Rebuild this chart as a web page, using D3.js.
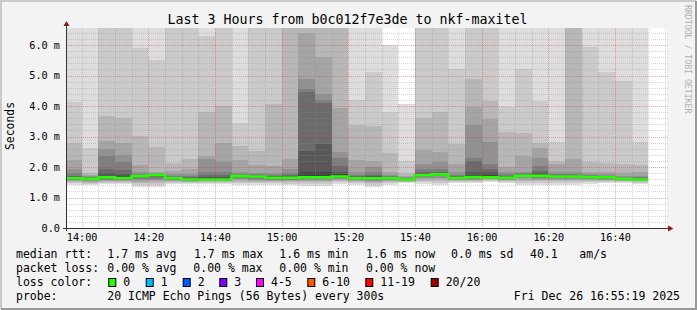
<!DOCTYPE html>
<html>
<head>
<meta charset="utf-8">
<script src="https://cdn.jsdelivr.net/npm/d3@7"></script>
<style>
html, body { margin: 0; padding: 0; background: #f3f3f3; }
svg { display: block; }
text { font-family: "DejaVu Sans Mono", monospace; }
</style>
</head>
<body>
<div id="chart"></div>
<script>
// 5 minute steps (end time of each step)
var slotEnds = ["14:00","14:05","14:10","14:15","14:20","14:25","14:30","14:35","14:40","14:45",
                "14:50","14:55","15:00","15:05","15:10","15:15","15:20","15:25","15:30","15:35",
                "15:40","15:45","15:50","15:55","16:00","16:05","16:10","16:15","16:20","16:25",
                "16:30","16:35","16:40","16:45","16:50"];

// median rtt per step (ms), all with 0 loss
var medians = [1.63,1.61,1.66,1.64,1.70,1.74,1.63,1.59,1.59,1.59,1.70,1.69,1.65,1.65,1.66,1.66,1.69,1.63,
               1.63,1.63,1.59,1.73,1.76,1.64,1.67,1.66,1.65,1.71,1.71,1.69,1.69,1.67,1.66,1.61,1.59];

// the 20 sorted pings of each step (ms)
var pings = [
  [1.42,1.47,1.51,1.54,1.56,1.58,1.59,1.60,1.61,1.62,1.64,1.66,1.68,1.72,1.80,1.95,2.24,2.78,4.12,7.9],
  [1.40,1.45,1.49,1.52,1.54,1.56,1.57,1.58,1.59,1.60,1.62,1.63,1.64,1.66,1.68,1.70,1.74,1.80,2.61,8.4],
  [1.44,1.48,1.52,1.55,1.57,1.59,1.61,1.62,1.64,1.65,1.68,1.72,1.80,1.95,2.37,2.59,2.86,3.68,7.1,9.6],
  [1.44,1.48,1.51,1.54,1.56,1.58,1.60,1.61,1.62,1.63,1.66,1.70,1.76,1.90,2.15,2.40,2.78,3.60,6.9,8.8],
  [1.33,1.40,1.46,1.52,1.56,1.60,1.63,1.66,1.68,1.69,1.71,1.72,1.73,1.75,1.78,1.83,2.06,3.03,5.90,7.6],
  [1.33,1.40,1.47,1.53,1.58,1.62,1.66,1.69,1.71,1.73,1.75,1.75,1.76,1.77,1.78,1.80,1.83,2.65,5.52,8.1],
  [1.44,1.48,1.51,1.54,1.56,1.58,1.59,1.60,1.61,1.62,1.64,1.65,1.66,1.68,1.71,1.76,1.88,2.13,7.3,9.2],
  [1.44,1.47,1.50,1.52,1.54,1.55,1.56,1.57,1.58,1.58,1.60,1.61,1.63,1.66,1.70,1.78,1.93,2.26,6.8,8.5],
  [1.44,1.48,1.51,1.53,1.55,1.56,1.57,1.58,1.58,1.59,1.61,1.63,1.68,1.75,1.83,2.26,2.37,3.81,6.29,7.7],
  [1.44,1.48,1.51,1.53,1.55,1.56,1.57,1.58,1.58,1.59,1.61,1.63,1.68,1.74,1.83,2.17,2.78,4.01,7.2,9.9],
  [1.42,1.47,1.52,1.56,1.60,1.63,1.65,1.67,1.68,1.69,1.71,1.72,1.73,1.75,1.78,1.85,2.24,2.68,3.46,7.0],
  [1.40,1.46,1.51,1.55,1.59,1.62,1.64,1.66,1.67,1.68,1.70,1.71,1.72,1.74,1.77,1.82,2.06,2.54,6.7,8.3],
  [1.42,1.47,1.51,1.54,1.57,1.59,1.61,1.62,1.63,1.64,1.66,1.67,1.69,1.71,1.75,1.82,2.02,4.07,7.5,9.0],
  [1.40,1.45,1.50,1.54,1.57,1.59,1.61,1.62,1.63,1.64,1.66,1.67,1.70,1.74,1.80,1.93,2.26,6.9,7.8,9.4],
  [1.38,1.44,1.50,1.54,1.57,1.60,1.62,1.63,1.64,1.65,1.72,1.83,2.54,4.45,4.57,4.90,6.39,7.0,8.6,9.7],
  [1.38,1.44,1.50,1.54,1.57,1.60,1.62,1.63,1.64,1.65,1.72,1.83,2.75,4.10,4.20,4.40,5.60,6.8,8.0,9.5],
  [1.45,1.50,1.54,1.58,1.61,1.63,1.65,1.66,1.67,1.68,1.72,1.76,1.85,2.04,2.31,2.50,3.92,6.7,7.7,8.9],
  [1.42,1.47,1.51,1.54,1.56,1.58,1.60,1.61,1.62,1.62,1.64,1.65,1.67,1.70,1.75,1.83,2.24,3.37,4.20,7.3],
  [1.35,1.42,1.48,1.52,1.55,1.58,1.60,1.61,1.62,1.62,1.64,1.66,1.69,1.74,1.83,2.00,2.21,3.35,5.11,8.0],
  [1.42,1.47,1.51,1.54,1.56,1.58,1.60,1.61,1.62,1.62,1.64,1.65,1.66,1.68,1.70,1.74,1.83,2.46,3.79,6.00],
  [1.47,1.50,1.52,1.54,1.55,1.56,1.57,1.58,1.58,1.59,1.60,1.60,1.61,1.62,1.64,1.66,1.70,1.80,2.21,4.07],
  [1.44,1.50,1.55,1.60,1.64,1.67,1.69,1.71,1.72,1.72,1.75,1.76,1.78,1.83,1.93,2.10,2.57,3.60,7.1,8.7],
  [1.40,1.47,1.54,1.60,1.65,1.69,1.72,1.74,1.75,1.75,1.77,1.78,1.80,1.85,1.93,2.15,2.48,3.81,6.9,9.1],
  [1.47,1.51,1.54,1.57,1.59,1.60,1.61,1.62,1.63,1.63,1.65,1.66,1.67,1.70,1.75,1.83,2.10,2.75,5.23,7.4],
  [1.47,1.51,1.54,1.57,1.59,1.61,1.63,1.65,1.66,1.66,1.70,1.75,1.83,2.21,2.31,3.38,3.98,4.90,7.2,9.3],
  [1.52,1.55,1.58,1.60,1.61,1.62,1.63,1.64,1.65,1.65,1.69,1.74,1.83,1.95,2.10,2.83,3.59,4.17,6.9,8.2],
  [1.47,1.51,1.54,1.57,1.59,1.60,1.61,1.62,1.63,1.64,1.66,1.67,1.68,1.71,1.76,1.85,2.00,3.16,3.98,7.6],
  [1.42,1.48,1.54,1.59,1.63,1.66,1.68,1.69,1.70,1.70,1.72,1.73,1.74,1.76,1.79,1.85,2.35,3.11,5.23,8.0],
  [1.40,1.47,1.53,1.58,1.62,1.65,1.67,1.69,1.70,1.70,1.72,1.75,1.80,1.88,2.04,2.31,2.63,2.78,4.17,7.8],
  [1.42,1.48,1.53,1.57,1.61,1.64,1.66,1.67,1.68,1.68,1.70,1.71,1.72,1.75,1.78,1.85,2.10,2.21,2.81,7.5],
  [1.42,1.48,1.53,1.57,1.61,1.64,1.66,1.67,1.68,1.68,1.70,1.71,1.72,1.75,1.78,1.85,2.26,6.8,8.1,9.2],
  [1.45,1.50,1.54,1.57,1.60,1.62,1.64,1.65,1.66,1.66,1.68,1.68,1.69,1.71,1.73,1.76,1.83,2.15,5.95,7.9],
  [1.47,1.51,1.54,1.57,1.59,1.61,1.62,1.63,1.64,1.65,1.67,1.67,1.68,1.70,1.72,1.76,1.83,2.13,5.11,7.2],
  [1.47,1.50,1.53,1.55,1.57,1.58,1.59,1.60,1.60,1.61,1.62,1.62,1.63,1.65,1.68,1.72,1.80,2.10,4.83,8.4],
  [1.45,1.49,1.52,1.54,1.56,1.57,1.58,1.58,1.59,1.59,1.60,1.60,1.61,1.63,1.66,1.72,1.83,2.06,2.81,7.0]
];

var yTicks = [0, 1, 2, 3, 4, 5, 6];
var yTickLabels = ["0.0", "1.0 m", "2.0 m", "3.0 m", "4.0 m", "5.0 m", "6.0 m"];

var lossLabels = ["0", "1", "2", "3", "4-5", "6-10", "11-19", "20/20"];
var lossColors = ["#26ff00", "#00b8ff", "#0059ff", "#7e00ff", "#ff00ff", "#ff5500", "#ff0000", "#a00000"];

var rttStats  = ["1.7 ms avg", "1.7 ms max", "1.6 ms min", "1.6 ms now", "0.0 ms sd", "40.1", "am/s"];
var lossStats = ["0.00 % avg", "0.00 % max", "0.00 % min", "0.00 % now"];

// smoke shades, outermost pair first
var smokeGreys = ["#dddddd","#cacaca","#b7b7b7","#a4a4a4","#919191","#7e7e7e","#6b6b6b","#585858","#454545","#323232"];

var W = 697, H = 310;
var plotLeft = 66, plotTop = 28, pw = 600, ph = 200;

var parseTime = d3.timeParse("%Y-%m-%d %H:%M:%S");
var day = "2025-12-26 ";

var x = d3.scaleTime()
    .domain([parseTime(day + "13:55:19"), parseTime(day + "16:55:19")])
    .range([plotLeft, plotLeft + pw]);
var y = d3.scaleLinear().domain([0, 6.56]).range([plotTop + ph, plotTop]);

var svg = d3.select("#chart").append("svg")
    .attr("width", W)
    .attr("height", H);

svg.append("rect").attr("width", W).attr("height", H).attr("fill", "#f3f3f3");
// frame
svg.append("path").attr("d", "M1,309V1H696").attr("fill", "none")
    .attr("stroke", "#cbcbcb").attr("stroke-width", 2);
svg.append("path").attr("d", "M1,309H696V1").attr("fill", "none")
    .attr("stroke", "#999999").attr("stroke-width", 2);

// title
svg.append("text")
    .attr("x", 347.5).attr("y", 24)
    .attr("text-anchor", "middle")
    .style("font-size", "13.3px")
    .text("Last 3 Hours from b0c012f7e3de to nkf-maxitel");

// vertical label
svg.append("text")
    .attr("transform", "translate(14,126) rotate(-90)")
    .attr("text-anchor", "middle")
    .style("font-size", "11.4px")
    .text("Seconds");

// watermark
svg.append("text")
    .attr("transform", "translate(685,5) rotate(90)")
    .style("font-size", "8.2px")
    .style("fill", "#b0b0b0")
    .text("RRDTOOL / TOBI OETIKER");

// canvas
svg.append("rect")
    .attr("x", plotLeft + 1).attr("y", plotTop)
    .attr("width", pw).attr("height", ph)
    .attr("fill", "#ffffff");

svg.append("clipPath").attr("id", "plotclip")
  .append("rect")
    .attr("x", plotLeft + 1).attr("y", plotTop)
    .attr("width", pw).attr("height", ph);

var plot = svg.append("g").attr("clip-path", "url(#plotclip)");

var ends = slotEnds.map(function(s) { return parseTime(day + s + ":00"); });
var starts = ends.map(function(d) { return d3.timeMinute.offset(d, -5); });

// smoke: each pair of pings (i, 21-i) as one band, darker inward
pings.forEach(function(p, k) {
  var x0 = Math.round(x(starts[k])), x1 = Math.round(x(ends[k]));
  for (var i = 0; i < 10; i++) {
    var yt = Math.round(y(p[19 - i])), yb = Math.round(y(p[i]));
    plot.append("rect")
        .attr("x", x0).attr("y", yt)
        .attr("width", x1 - x0).attr("height", Math.max(0, yb - yt))
        .attr("fill", smokeGreys[i])
        .attr("shape-rendering", "crispEdges");
  }
});

// grid
var grid = svg.append("g").attr("shape-rendering", "crispEdges");
var minorY = d3.range(0, 6.6, 0.2).filter(function(v) { return Math.abs(v - Math.round(v)) > 0.01; });
minorY.forEach(function(v) {
  var yy = Math.round(y(v)) + 0.5;
  grid.append("line").attr("x1", plotLeft + 1).attr("x2", plotLeft + pw + 2).attr("y1", yy).attr("y2", yy)
      .attr("stroke", "#8c8c8c").attr("stroke-opacity", 0.35).attr("stroke-dasharray", "1,1");
});
var labelX = d3.timeMinute.every(20).range(x.domain()[0], x.domain()[1]);
// the first label (14:00) only gets a minor line, as in the source image
var majorX = labelX.slice(1);
var minorX = d3.timeMinute.every(5).range(x.domain()[0], x.domain()[1])
    .filter(function(d) { return !majorX.some(function(m) { return +m === +d; }); });
minorX.forEach(function(d) {
  var xx = Math.round(x(d)) + 0.5;
  grid.append("line").attr("x1", xx).attr("x2", xx).attr("y1", plotTop).attr("y2", plotTop + ph)
      .attr("stroke", "#8c8c8c").attr("stroke-opacity", 0.35).attr("stroke-dasharray", "1,1");
});
yTicks.slice(1).forEach(function(v) {
  var yy = Math.round(y(v)) + 0.5;
  grid.append("line").attr("x1", plotLeft + 1).attr("x2", plotLeft + pw + 2).attr("y1", yy).attr("y2", yy)
      .attr("stroke", "#e03030").attr("stroke-opacity", 0.4).attr("stroke-dasharray", "1,1");
});
majorX.forEach(function(d) {
  var xx = Math.round(x(d)) + 0.5;
  grid.append("line").attr("x1", xx).attr("x2", xx).attr("y1", plotTop).attr("y2", plotTop + ph)
      .attr("stroke", "#e03030").attr("stroke-opacity", 0.4).attr("stroke-dasharray", "1,1");
});

// median line, coloured by loss (0 loss everywhere)
var medPts = medians.map(function(m, k) { return [starts[k], m]; });
medPts.push([ends[ends.length - 1], medians[medians.length - 1]]);
var medLine = d3.line()
    .x(function(d) { return x(d[0]); })
    .y(function(d) { return y(d[1]); })
    .curve(d3.curveStepAfter);
plot.append("path")
    .datum(medPts)
    .attr("d", medLine)
    .attr("fill", "none")
    .attr("stroke", lossColors[0])
    .attr("stroke-width", 2.6);

// axes
var axisCol = "#333333";
svg.append("line").attr("x1", plotLeft - 3).attr("x2", plotLeft + pw + 3)
    .attr("y1", plotTop + ph + 0.5).attr("y2", plotTop + ph + 0.5)
    .attr("stroke", axisCol).attr("shape-rendering", "crispEdges");
svg.append("line").attr("x1", plotLeft + 0.5).attr("x2", plotLeft + 0.5)
    .attr("y1", plotTop + ph + 3).attr("y2", plotTop - 3)
    .attr("stroke", axisCol).attr("shape-rendering", "crispEdges");
svg.append("path").attr("d", "M668,225.5L673.5,228.5L668,231.5Z").attr("fill", "#8c1a1a");
svg.append("path").attr("d", "M63.5,26L66.5,21L69.5,26Z").attr("fill", "#8c1a1a");

// y tick labels
svg.append("g").selectAll("text")
    .data(yTicks)
  .enter().append("text")
    .attr("x", 60)
    .attr("y", function(d) { return y(d) + 3.5; })
    .attr("text-anchor", "end")
    .style("font-size", "10.2px")
    .text(function(d, i) { return yTickLabels[i]; });

// x tick labels
var xFmt = d3.timeFormat("%H:%M");
svg.append("g").selectAll("text")
    .data(labelX)
  .enter().append("text")
    .attr("x", function(d) { return x(d) + 0.5; })
    .attr("y", 241)
    .attr("text-anchor", "middle")
    .style("font-size", "10.2px")
    .text(function(d) { return xFmt(d); });

// legend
var lg = svg.append("g").style("font-size", "11.5px");
var rttX = [107.3, 194, 279.3, 366, 451, 530, 579.3];
var lossX = [107.3, 193.3, 279.3, 366];
lg.append("text").attr("x", 16).attr("y", 257.5).text("median rtt:");
rttStats.forEach(function(s, i) {
  lg.append("text").attr("x", rttX[i]).attr("y", 257.5).text(s);
});
lg.append("text").attr("x", 16).attr("y", 271.5).text("packet loss:");
lossStats.forEach(function(s, i) {
  lg.append("text").attr("x", lossX[i]).attr("y", 271.5).text(s);
});
lg.append("text").attr("x", 16).attr("y", 285.5).text("loss color:");
var boxX = [108.3, 145.7, 182.7, 219.3, 256, 307.3, 365.3, 430.7];
lossLabels.forEach(function(s, i) {
  lg.append("rect")
      .attr("x", boxX[i] + 0.5).attr("y", 278.5)
      .attr("width", 7).attr("height", 8)
      .attr("fill", lossColors[i])
      .attr("stroke", "#000").attr("stroke-width", 1);
  lg.append("text").attr("x", boxX[i] + 15).attr("y", 285.5).text(s);
});
lg.append("text").attr("x", 16).attr("y", 299.5).text("probe:");
lg.append("text").attr("x", 107.3).attr("y", 299.5).text("20 ICMP Echo Pings (56 Bytes) every 300s");
lg.append("text").attr("x", 680).attr("y", 299.5).attr("text-anchor", "end").text("Fri Dec 26 16:55:19 2025");
</script>
</body>
</html>
